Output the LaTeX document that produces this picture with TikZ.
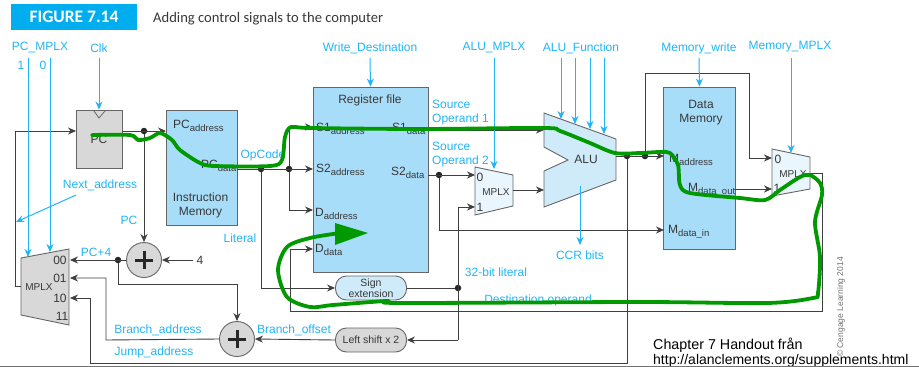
\documentclass[tikz,border=0pt]{standalone}
\usepackage{fontspec}
\setmainfont{Liberation Sans}
\newfontfamily\titlefont{Carlito}
\usetikzlibrary{arrows.meta}
\definecolor{cy}{HTML}{22B5F4}
\definecolor{wirec}{HTML}{3F3F3F}
\definecolor{memblue}{HTML}{A8DDF9}
\definecolor{lightblue}{HTML}{CFEBFA}
\definecolor{paleblue}{HTML}{EAF6FD}
\definecolor{boxgray}{HTML}{D8D8D8}
\definecolor{edgec}{HTML}{666666}
\definecolor{titleblue}{HTML}{00AEEF}
\definecolor{green1}{HTML}{009A00}
\newcommand{\subt}[2]{#1\raisebox{-3.5pt}{\fontsize{9.5}{10}\selectfont #2}}
\tikzset{
  x=1pt,y=-1pt,
  wire/.style={draw=wirec,line width=0.9pt},
  arrowwire/.style={wire,-{Stealth[length=8pt,width=7pt]}},
  ctl/.style={draw=cy,line width=1pt},
  arrowctl/.style={ctl,-{Stealth[length=8pt,width=7pt]}},
  lab/.style={text=cy,font=\fontsize{12}{14}\selectfont,inner sep=0pt},
  txt/.style={text=black!78,font=\fontsize{12}{14}\selectfont,inner sep=0pt},
  smalltxt/.style={text=black!78,font=\fontsize{10}{12}\selectfont,inner sep=0pt},
  port/.style={txt,anchor=base west},
  block/.style={draw=edgec,line width=0.9pt,inner sep=0pt},
  mem/.style={block,fill=memblue},
  pill/.style={block,rounded corners=11pt,minimum width=71pt,minimum height=24pt,align=center},
  adder/.style={circle,draw=edgec,line width=0.9pt,fill=boxgray,minimum size=35pt,inner sep=0pt},
  jn/.style={circle,fill=black!85,minimum size=6.5pt,inner sep=0pt},
  muxshape/.style={draw=edgec,line width=0.9pt},
  plusbar/.style={draw=black!85,line width=3pt},
  greenline/.style={draw=green1,line width=3.8pt,line cap=round,line join=round},
}
\begin{document}
\begin{tikzpicture}
\useasboundingbox (0,0) rectangle (919,367);
\fill[white] (0,0) rectangle (919,367);

% title
\node[fill=titleblue,minimum width=126pt,minimum height=26pt,inner sep=0pt,text=white,font=\titlefont\bfseries\fontsize{17.5}{19}\selectfont] (figtag) at (74,17) {FIGURE 7.14};
\node[anchor=west,inner sep=0pt,text=black!78,font=\titlefont\fontsize{14.6}{17}\selectfont] (figtitle) at (153,18.5) {Adding control signals to the computer};

% blocks
\node[block,fill=boxgray,minimum width=46pt,minimum height=58pt] (pc) at (99,139) {};
\node[txt] (pctext) at (99,139) {PC};
\node[mem,minimum width=71pt,minimum height=115pt] (imem) at (201.5,167.5) {};
\node[mem,minimum width=115pt,minimum height=185pt] (regs) at (370.5,179.5) {};
\node[mem,minimum width=72pt,minimum height=162pt] (dmem) at (699.5,168) {};
\node[pill,fill=lightblue,font=\fontsize{10.5}{11.5}\selectfont,text=black!78] (signext) at (371,288) {Sign\\extension};
\node[pill,fill=boxgray,font=\fontsize{10.5}{12}\selectfont,text=black!78] (lshift) at (371,340) {Left shift x 2};
\node[adder] (add1) at (144,260) {};
\node[adder] (add2) at (237,339) {};
\draw[plusbar] ([xshift=-9pt]add1.center) -- ([xshift=9pt]add1.center);
\draw[plusbar] ([yshift=-9pt]add1.center) -- ([yshift=9pt]add1.center);
\draw[plusbar] ([xshift=-9pt]add2.center) -- ([xshift=9pt]add2.center);
\draw[plusbar] ([yshift=-9pt]add2.center) -- ([yshift=9pt]add2.center);
\draw[draw=edgec,line width=0.8pt] (94,111) -- (99,118) -- (105,111);

% multiplexers and ALU
\draw[muxshape,fill=boxgray] (21,258) -- (69,249) -- (69,325) -- (21,315) -- cycle;
\draw[muxshape,fill=paleblue] (475,167) -- (513,175) -- (513,206) -- (475,215) -- cycle;
\draw[muxshape,fill=paleblue] (772,149) -- (810,157) -- (810,189) -- (772,196) -- cycle;
\draw[muxshape,fill=lightblue] (544,113) -- (616,139) -- (616,180) -- (544,207) -- (544,171) -- (568,160) -- (544,147) -- cycle;

% connection points
\coordinate (pcin) at (76,131);
\coordinate (pcout) at (122,131);
\coordinate (imin) at (166,131);
\coordinate (imout) at (237,169);
\coordinate (nextc) at (15,131);
\coordinate (nextb) at (15,286);
\coordinate (mleft) at (21,286);
\coordinate (m00) at (70,260);
\coordinate (m01) at (70,278);
\coordinate (m10) at (70,298);
\coordinate (bra) at (106,340);
\coordinate (brb) at (106,278);
\coordinate (jma) at (90,363);
\coordinate (jmb) at (90,298);
\coordinate (jmc) at (627,363);
\coordinate (pcp1) at (118,284);
\coordinate (pcp2) at (237,284);
\coordinate (four) at (193,260);
\coordinate (s1ain) at (313,127);
\coordinate (s2ain) at (313,169);
\coordinate (dain) at (313,210);
\coordinate (ddin) at (313,249);
\coordinate (op1) at (289,127);
\coordinate (op2) at (289,210);
\coordinate (lit) at (261,288);
\coordinate (s1out) at (428,130);
\coordinate (s1in) at (544,130);
\coordinate (s2out) at (428,175);
\coordinate (m20) at (475,175);
\coordinate (m21) at (475,207);
\coordinate (m2o) at (513,190);
\coordinate (aluin2) at (544,190);
\coordinate (litup) at (458,207);
\coordinate (litdn) at (458,340);
\coordinate (dat1) at (439,230);
\coordinate (datin) at (664,230);
\coordinate (aluout) at (616,156);
\coordinate (maddr) at (664,156);
\coordinate (by1) at (645,73);
\coordinate (by2) at (749,73);
\coordinate (by3) at (749,158);
\coordinate (m30) at (772,158);
\coordinate (mout) at (735,189);
\coordinate (m31) at (772,189);
\coordinate (m3o) at (810,173);
\coordinate (d1) at (822,173);
\coordinate (d2) at (822,311);
\coordinate (d3) at (290,311);
\coordinate (d4) at (290,249);
\coordinate (ccrtop) at (580,186);
\coordinate (ccrend) at (580,245);

% junctions
\node[jn] (jpc) at (144,131) {};
\node[jn] (jop1) at (261,169) {};
\node[jn] (jop2) at (289,169) {};
\node[jn] (jpc4) at (118,260) {};
\node[jn] (js2) at (439,175) {};
\node[jn] (jlit) at (458,288) {};
\node[jn] (jal1) at (627,156) {};
\node[jn] (jal2) at (645,156) {};

% wires
\draw[arrowwire] (nextb -| mleft) -- (nextb) -- (nextc) -- (pcin);
\draw[arrowwire] (pcout) -- (imin);
\draw[arrowwire] (jpc) -- (add1.north);
\draw[arrowwire] (four) -- (add1.east);
\draw[arrowwire] (add1.west) -- (m00);
\draw[arrowwire] (jpc4) -- (pcp1) -- (pcp2) -- (add2.north);
\draw[arrowwire] (add2.west) -- (bra) -- (brb) -- (m01);
\draw[arrowwire] (jal1) -- (jmc) -- (jma) -- (jmb) -- (m10);
\draw[arrowwire] (lshift.west) -- (add2.east);
\draw[arrowwire] (imout) -- (s2ain);
\draw[arrowwire] (jop2) -- (op1) -- (s1ain);
\draw[arrowwire] (jop2) -- (op2) -- (dain);
\draw[arrowwire] (jop1) -- (lit) -- (signext.west);
\draw[wire] (signext.east) -- (jlit);
\draw[arrowwire] (litdn) -- (lshift.east);
\draw[arrowwire] (litdn) -- (litup) -- (m21);
\draw[arrowwire] (s1out) -- (s1in);
\draw[arrowwire] (s2out) -- (m20);
\draw[arrowwire] (js2) -- (dat1) -- (datin);
\draw[arrowwire] (m2o) -- (aluin2);
\draw[arrowwire] (aluout) -- (maddr);
\draw[arrowwire] (jal2) -- (by1) -- (by2) -- (by3) -- (m30);
\draw[arrowwire] (mout) -- (m31);
\draw[arrowwire] (m3o) -- (d1) -- (d2) -- (d3) -- (d4) -- (ddin);

% control signal labels
\node[lab] (lbpcm) at (40,48) {PC\_MPLX};
\node[lab] (lb1) at (21,65) {1};
\node[lab] (lb0) at (43,65) {0};
\node[lab] (lbclk) at (99,48) {Clk};
\node[lab] (lbwd) at (370,48) {Write\_Destination};
\node[lab] (lbam) at (494,48) {ALU\_MPLX};
\node[lab] (lbaf) at (581,48) {ALU\_Function};
\node[lab] (lbmw) at (699,48) {Memory\_write};
\node[lab] (lbmm) at (790,47) {Memory\_MPLX};
\node[lab] (lbnext) at (100,185) {Next\_address};
\coordinate (nexthit) at (16,222);
\coordinate (nextfrom) at (76,195);

\draw[ctl,-{Stealth[length=8pt,width=7pt]}] (28,58) -- (28,257);
\draw[arrowctl] (50,58) -- (50,252);
\draw[arrowctl] (lbclk.south |- 0,58) -- (pc.north);
\draw[arrowctl] (lbwd.south |- 0,58) -- (regs.north);
\draw[arrowctl] (494,58) -- (494,169);
\draw[arrowctl] (561,58) -- (561,119);
\draw[arrowctl] (575,58) -- (575,124);
\draw[arrowctl] (590,58) -- (590,129);
\draw[arrowctl] (604,58) -- (604,134);
\draw[arrowctl] (lbmw.south |- 0,58) -- (dmem.north);
\draw[arrowctl] (791,58) -- (791,153);
\draw[arrowctl] (nextfrom) -- (nexthit);
\draw[arrowctl] (ccrtop) -- (ccrend);

% signal names
\node[lab] (lbpc) at (129,220) {PC};
\node[lab] (lbp4) at (96,252) {PC+4};
\node[lab] (lbba) at (158,330) {Branch\_address};
\node[lab] (lbja) at (154,352) {Jump\_address};
\node[lab] (lbbo) at (294,330) {Branch\_offset};
\node[lab] (lbop) at (263,155) {OpCode};
\node[lab] (lblit) at (240,238) {Literal};
\node[lab,anchor=west] (lbso1a) at (432,104) {Source};
\node[lab,anchor=west] (lbso1b) at (432,119) {Operand 1};
\node[lab,anchor=west] (lbso2a) at (432,146) {Source};
\node[lab,anchor=west] (lbso2b) at (432,161) {Operand 2};
\node[lab] (lbccr) at (580,255) {CCR bits};
\node[lab] (lb32) at (496,272) {32-bit literal};
\node[lab] (lbdest) at (538,300) {Destination operand};

% block texts
\node[port] (tpca) at (173,128) {\subt{PC}{address}};
\node[port] (tpcd) at (201,168) {\subt{PC}{data}};
\node[txt,align=center] (timem) at (200.5,205.5) {Instruction\\Memory};
\node[txt] (treg) at (370,100) {Register file};
\node[port] (ts1a) at (316,131) {\subt{S1}{address}};
\node[port] (ts2a) at (316,172) {\subt{S2}{address}};
\node[port] (tda) at (315,216) {\subt{D}{address}};
\node[port] (tdd) at (315,252) {\subt{D}{data}};
\node[port] (ts1d) at (392,131) {\subt{S1}{data}};
\node[port] (ts2d) at (391,175) {\subt{S2}{data}};
\node[txt] (talu) at (586,159) {ALU};
\node[txt,align=center] (tdm) at (701,112.5) {Data\\Memory};
\node[port] (tma) at (669,162) {\subt{M}{address}};
\node[port] (tmo) at (688,191) {\subt{M}{data\_out}};
\node[port] (tmi) at (668,233) {\subt{M}{data\_in}};
\node[txt] (t00) at (60,260) {00};
\node[txt] (t01) at (60,278) {01};
\node[txt] (t10) at (60,298) {10};
\node[txt] (t11) at (62,316) {11};
\node[smalltxt] (tm1) at (39,287) {MPLX};
\node[txt] (t0a) at (480,177) {0};
\node[txt] (t1a) at (480,207) {1};
\node[smalltxt] (tm2) at (496,192) {MPLX};
\node[txt] (t0b) at (778,159) {0};
\node[txt] (t1b) at (777,188) {1};
\node[smalltxt] (tm3) at (793,174) {MPLX};
\node[txt] (tfour) at (200,260) {4};
\node[rotate=90,inner sep=0pt,text=black!55,font=\fontsize{8.5}{10}\selectfont] (tcopy) at (841,307) {© Cengage Learning 2014};

% hand-drawn overlay
\draw[greenline] plot[smooth,tension=0.5] coordinates {(92,135) (130,135) (138,140) (150,138) (160,133) (172,140) (180,150) (200,163) (215,166) (270,166) (282,160) (285,137) (291,127) (310,128) (420,129) (544,128) (560,131) (590,143) (615,153) (640,153) (660,152) (670,153) (678,165) (680,185) (690,193) (740,198) (765,200) (780,190) (800,177) (810,175) (820,183) (822,195) (815,222) (820,257) (818,293) (813,298) (767,303) (640,302) (400,303) (387,301) (333,305) (310,307) (287,297) (278,270) (287,247) (310,238) (340,233)};
\fill[green1] (335,223) -- (368,233) -- (335,245) -- cycle;

% note
\node[anchor=base west,inner sep=0pt,text=black,font=\fontsize{14.3}{16}\selectfont] (note1) at (653,349) {Chapter 7 Handout från};
\node[anchor=base west,inner sep=0pt,text=black,font=\fontsize{14}{16}\selectfont] (note2) at (653,364.5) {http://alanclements.org/supplements.html};
\draw[black!55,line width=0.7pt] (0,366.5) -- (919,366.5);
\end{tikzpicture}
\end{document}
